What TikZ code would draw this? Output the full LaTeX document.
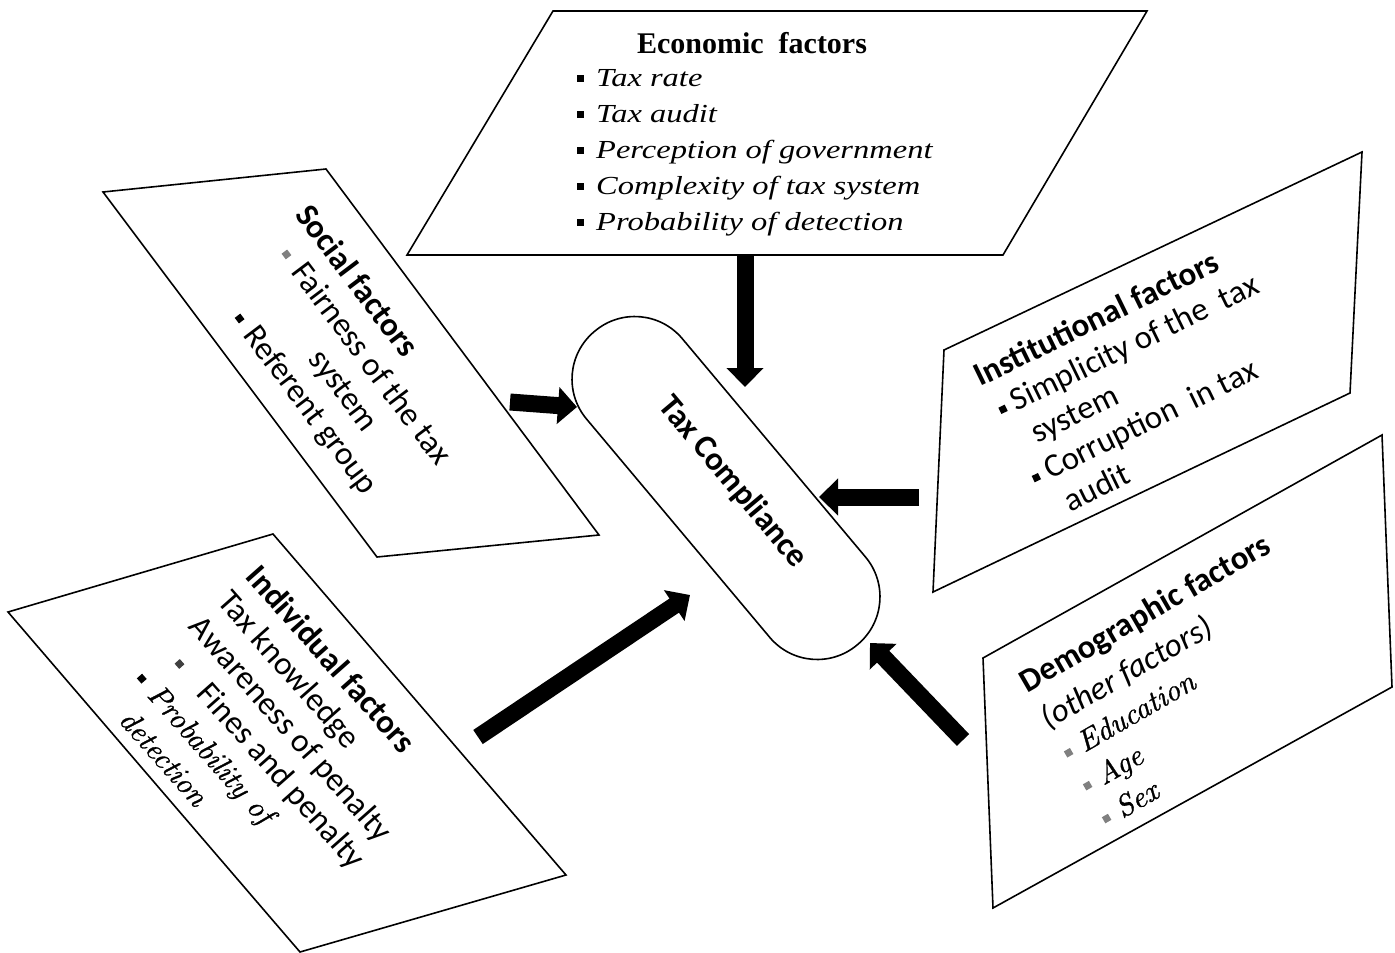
\documentclass[tikz,border=0pt]{standalone}
\usepackage{fontspec}
\usetikzlibrary{arrows.meta}
\newfontfamily\carlito{Carlito}
\newfontfamily\timesrm{Liberation Serif}
\newfontfamily\timeswide{Liberation Serif}[FakeStretch=1.25]
\newfontfamily\serifit{lmroman10-italic.otf}[FakeBold=1]
\newcommand{\lmit}{\serifit\fontsize{30}{38}\selectfont}
\newcommand{\sqbul}[1][black]{\textcolor{#1}{\rule[4.5pt]{7pt}{7pt}}}

\begin{document}
\begin{tikzpicture}[x=1pt,y=-1pt,
    box/.style={line width=1.6pt},
    factor/.style={font=\carlito\fontsize{33}{38}\selectfont, align=left, inner sep=0pt, anchor=north west},
    push/.style={line width=17pt, -{Triangle[length=19pt,width=36pt]}}]
    \useasboundingbox (0,0) rectangle (1395,953);

    % Boxes
    \draw[box] (553,11) -- (1147,11) -- (1003,255) -- (407,255) -- cycle;
    \draw[box] (103,192) -- (326,169) -- (599,535) -- (377,557) -- cycle;
    \draw[box] (8,612) -- (273,534) -- (566,875) -- (300,952) -- cycle;
    \draw[box] (944,350) -- (1362,152) -- (1350,393) -- (933,592) -- cycle;
    \draw[box] (983,658) -- (1382,435) -- (1392,687) -- (993,908) -- cycle;

    % Economic factors
    \node[font=\timesrm\bfseries\fontsize{30}{36}\selectfont, inner sep=0pt] (econ) at (752,43) {Economic\ \ factors};
    \node[font=\timeswide\itshape\fontsize{26}{36}\selectfont, align=left, inner sep=0pt, anchor=north west] (econlist) at (577,69)
        {\sqbul\hspace{12pt}Tax rate\\
         \sqbul\hspace{12pt}Tax audit\\
         \sqbul\hspace{12pt}Perception of government\\
         \sqbul\hspace{12pt}Complexity of tax system\\
         \sqbul\hspace{12pt}Probability of detection};

    % Social factors
    \node[factor, rotate=-53] (social) at (313,201)
        {\textbf{Social factors}\\
         \hspace*{23pt}\sqbul[gray]\hspace{13pt}Fairness of the tax\\
         \hspace*{123pt}system\\
         \hspace*{46pt}\sqbul\hspace{12pt}Referent group};

    % Individual factors
    \node[factor, rotate=-48.5] (indiv) at (262,562)
        {\textbf{Individual factors}\\
         Tax knowledge\\
         Awareness of penalty\\
         \hspace*{18pt}\sqbul[darkgray]\hspace{30pt}Fines and penalty\\
         \hspace*{4pt}\sqbul\hspace{12pt}{\lmit Probability of}\\
         \hspace*{23pt}{\lmit detection}};

    % Institutional factors
    \node[factor, rotate=26] (inst) at (970,366)
        {\textbf{Institutional factors}\\
         \hspace*{7pt}\sqbul\hspace{8pt}Simplicity of the\ \ tax\\
         \hspace*{26pt}system\\
         \hspace*{7pt}\sqbul\hspace{8pt}Corruption\ \ in tax\\
         \hspace*{26pt}audit};

    % Demographic factors
    \node[factor, rotate=30] (demo) at (1016,673)
        {\textbf{Demographic factors}\\[4pt]
         {\itshape (other factors)}\\
         \hspace*{2pt}\sqbul[gray]\hspace{10pt}{\lmit Education}\\
         \hspace*{2pt}\sqbul[gray]\hspace{10pt}{\lmit Age}\\
         \hspace*{2pt}\sqbul[gray]\hspace{10pt}{\lmit Sex}};

    % Tax compliance
    \node[draw, line width=1.6pt, rounded corners=62pt, minimum width=409pt, minimum height=125pt, rotate=-50,
        text height=23pt, text depth=23pt,
        font=\carlito\bfseries\fontsize{33}{38}\selectfont] (tc) at (726,488) {Tax Compliance};

    % Arrows
    \coordinate (econ-a) at (745,255);
    \coordinate (econ-b) at (745,387);
    \coordinate (social-a) at (510,402);
    \coordinate (social-b) at (577,407);
    \coordinate (inst-a) at (919,497);
    \coordinate (inst-b) at (819,497);
    \coordinate (indiv-a) at (478,737);
    \coordinate (indiv-b) at (690,595);
    \coordinate (demo-a) at (963,740);
    \coordinate (demo-b) at (870,643);
    \draw[push] (econ-a) -- (econ-b);
    \draw[push] (social-a) -- (social-b);
    \draw[push] (inst-a) -- (inst-b);
    \draw[push] (indiv-a) -- (indiv-b);
    \draw[push] (demo-a) -- (demo-b);
\end{tikzpicture}
\end{document}
